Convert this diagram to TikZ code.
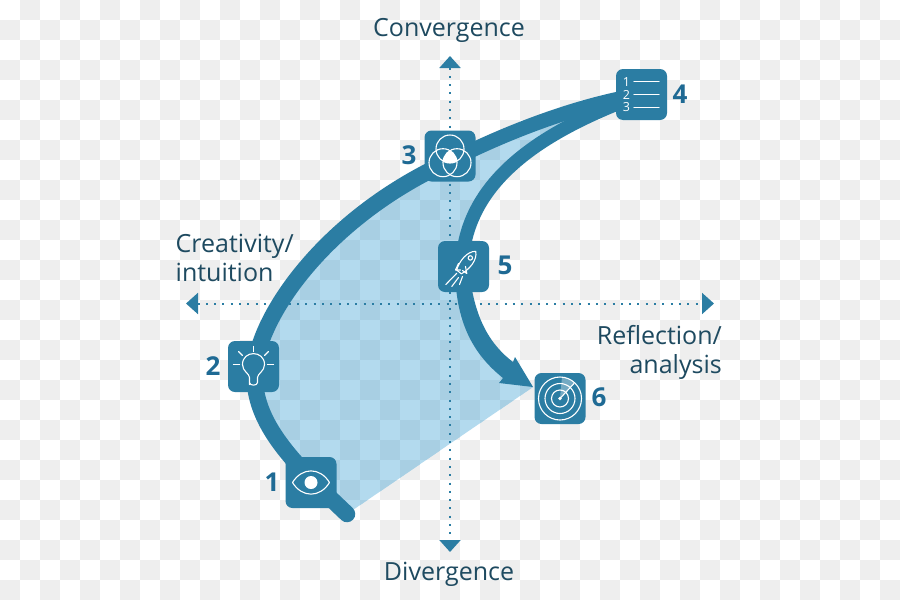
\documentclass[tikz,border=0pt]{standalone}
\usepackage{fontspec}
\setmainfont{Open Sans}
\usetikzlibrary{arrows.meta,backgrounds}
\definecolor{band}{HTML}{2B7DA3}
\definecolor{pale}{HTML}{B3DAEE}
\definecolor{paledark}{HTML}{A8CFE3}
\definecolor{tile}{HTML}{EEEEEE}
\definecolor{numc}{HTML}{1F6A94}
\definecolor{capc}{HTML}{1E4A60}
% checkerboard of 20pt squares in a given colour
\newcommand{\checkers}[1]{%
  \foreach \i in {0,...,44}{\foreach \j in {0,...,29}{%
    \ifodd\numexpr\i+\j\relax
      \fill[#1] (20*\i,20*\j) rectangle ++(20,20);
    \fi}}}
% outward sweep: tail to tile 3, then on from tile 3 to tile 4
\newcommand{\outsweepA}{%
  (tail) .. controls (290,460) and (250,420) .. (k2)
  .. controls (262,310) and (330,215) .. (k3)}
\newcommand{\outsweepB}{%
  .. controls (495,138) and (570,106) .. (b4.center)}
% return sweep from tile 4 to tile 5
\newcommand{\backsweep}{%
  (b4.center) .. controls (553,127) and (465,175) .. (k5)}
\tikzset{
  iconbox/.style={draw=none,fill=band,rounded corners=7pt,minimum size=51pt,inner sep=0pt},
  num/.style={text=numc,font=\fontsize{26}{26}\selectfont\bfseries,inner sep=0pt},
  axiscap/.style={text=capc,font=\fontsize{25}{29}\selectfont,inner sep=0pt},
  axisline/.style={draw=band,line width=2pt,dash pattern=on 2pt off 6.3pt,
    {Triangle[length=12pt,width=21pt,fill=band]}-{Triangle[length=12pt,width=21pt,fill=band]}},
  sweep/.style={draw=band,line width=16.5pt,line cap=round,line join=round},
  glyph/.style={draw=white,line width=1.1pt,line cap=round,line join=round,fill=none},
  listnum/.style={text=white,font=\fontsize{12.5}{12.5}\selectfont,inner sep=0pt}
}
\begin{document}
\begin{tikzpicture}[x=1pt,y=-1pt]
\useasboundingbox (0,0) rectangle (900,600);

% icon tiles
\node[iconbox] (b1) at (311,482.5) {};
\node[iconbox] (b2) at (253.5,366.5) {};
\node[iconbox] (b3) at (450,156) {};
\node[iconbox] (b4) at (641.5,94.5) {};
\node[iconbox] (b5) at (463.5,266.5) {};
\node[iconbox] (b6) at (560,398.5) {};

% points the curves run through
\coordinate (tail) at (347,514);
\coordinate (k2) at (255,366);
\coordinate (k3) at (450,161);
\coordinate (k5) at (462,266);
\coordinate (tip) at (533,387);

\begin{pgfonlayer}{background}
  \fill[white] (0,0) rectangle (900,600);
  \checkers{tile}
  % shaded field
  \newcommand{\fieldpath}{\outsweepA \outsweepB -- \backsweep
     .. controls (462,320) and (490,365) .. (tip) -- cycle}
  \fill[pale] \fieldpath;
  \begin{scope}
    \clip \fieldpath;
    \checkers{paledark}
  \end{scope}
  % axes
  \coordinate (axL) at (186,303.5);
  \coordinate (axR) at (714,303.5);
  \coordinate (axT) at (450,56);
  \coordinate (axB) at (450,552);
  \draw[axisline] (axL) -- (axR);
  \draw[axisline] (axT) -- (axB);
  % main curve and return curve
  \draw[sweep] \outsweepA;
  \draw[sweep,line width=14.5pt] (k3) \outsweepB;
  \draw[sweep,line width=13.5pt] \backsweep;
  % widening end of the return curve with its arrowhead
  \fill[band] (455,266) .. controls (455,322) and (473,354) .. (503,378)
    -- (499,383) -- (tip) -- (515,357) -- (513,362)
    .. controls (492,346) and (473,320) .. (469,266) -- cycle;
\end{pgfonlayer}

% eye
\begin{scope}[shift={(b1.center)}]
  \draw[glyph] (-18.5,0) .. controls (-9,-15.5) and (9,-15.5) .. (18.5,0)
     .. controls (9,15.5) and (-9,15.5) .. (-18.5,0) -- cycle;
  \fill[white] (0,0) circle (6.5);
\end{scope}

% light bulb
\begin{scope}[shift={(b2.center)}]
  \draw[glyph] (-4,18) -- (-4,11) .. controls (-4,7) and (-11,5) .. (-11,-2)
    .. controls (-11,-16.5) and (11,-16.5) .. (11,-2)
    .. controls (11,5) and (4,7) .. (4,11) -- (4,16) .. controls (4,19.5) and (-4,19.5) .. (-4,16);
  \draw[glyph] (0,-20) -- (0,-15);
  \draw[glyph] (-15,-15) -- (-11,-11);
  \draw[glyph] (15,-15) -- (11,-11);
  \draw[glyph] (-20,-2) -- (-14,-2);
  \draw[glyph] (20,-2) -- (14,-2);
\end{scope}

% three overlapping circles
\begin{scope}[shift={(b3.center)}]
  \begin{scope}
    \clip (0,-7) circle (14);
    \clip (-7,6.7) circle (14);
    \fill[white] (7,6.7) circle (14);
  \end{scope}
  \draw[glyph] (0,-7) circle (14);
  \draw[glyph] (-7,6.7) circle (14);
  \draw[glyph] (7,6.7) circle (14);
\end{scope}

% numbered list
\begin{scope}[shift={(b4.center)}]
  \node[listnum] (l1) at (-15,-12.5) {1};
  \node[listnum] (l2) at (-15,0) {2};
  \node[listnum] (l3) at (-15,12.5) {3};
  \draw[glyph] (-7.5,-13) -- (17.5,-13);
  \draw[glyph] (-7.5,0) -- (17.5,0);
  \draw[glyph] (-7.5,13) -- (17.5,13);
\end{scope}

% rocket
\begin{scope}[shift={(b5.center)}]
  \begin{scope}[shift={(3.7,-4.7)},rotate=51]
    \draw[glyph] (-13,-3) .. controls (-5,-6.5) and (8,-7) .. (13.5,0)
       .. controls (8,7) and (-5,6.5) .. (-13,3) -- cycle;
    \draw[glyph] (5,0) circle (2.2);
  \end{scope}
  \draw[glyph] (-5,-3) -- (-8,3.5) -- (-3,3.5);
  \draw[glyph] (2,0) -- (3.3,7) -- (-1,4);
  \draw[glyph] (-6.7,6.7) -- (-17.7,18);
  \draw[glyph] (-5,11) -- (-11.7,20);
  \draw[glyph] (-1,10) -- (-4,18);
\end{scope}

% radar
\begin{scope}[shift={(b6.center)}]
  \fill[white,opacity=.35] (0,0) -- (15,-15.5) .. controls (11,-19) and (6,-21) .. (2,-21.5) -- cycle;
  \draw[glyph] (0,0) circle (21.5);
  \draw[glyph] (0,0) circle (15);
  \draw[glyph] (0,0) circle (8.5);
  \draw[glyph] (0,0) -- (14,-15);
  \fill[white] (0,0) circle (1.8);
\end{scope}

% step numbers
\node[num] (n1) at (272,482) {1};
\node[num] (n2) at (213,366) {2};
\node[num] (n3) at (409,155.5) {3};
\node[num] (n4) at (680,94) {4};
\node[num] (n5) at (505,265) {5};
\node[num] (n6) at (599,397) {6};

% axis captions
\node[axiscap] (top) at (449,30.5) {Convergence};
\node[axiscap] (bot) at (449,574.5) {Divergence};
\node[axiscap,align=left,anchor=west] (lft) at (175.5,258) {Creativity/\\intuition};
\node[axiscap,align=right,anchor=east] (rgt) at (722,352.5) {Reflection/\\analysis};
\end{tikzpicture}
\end{document}
